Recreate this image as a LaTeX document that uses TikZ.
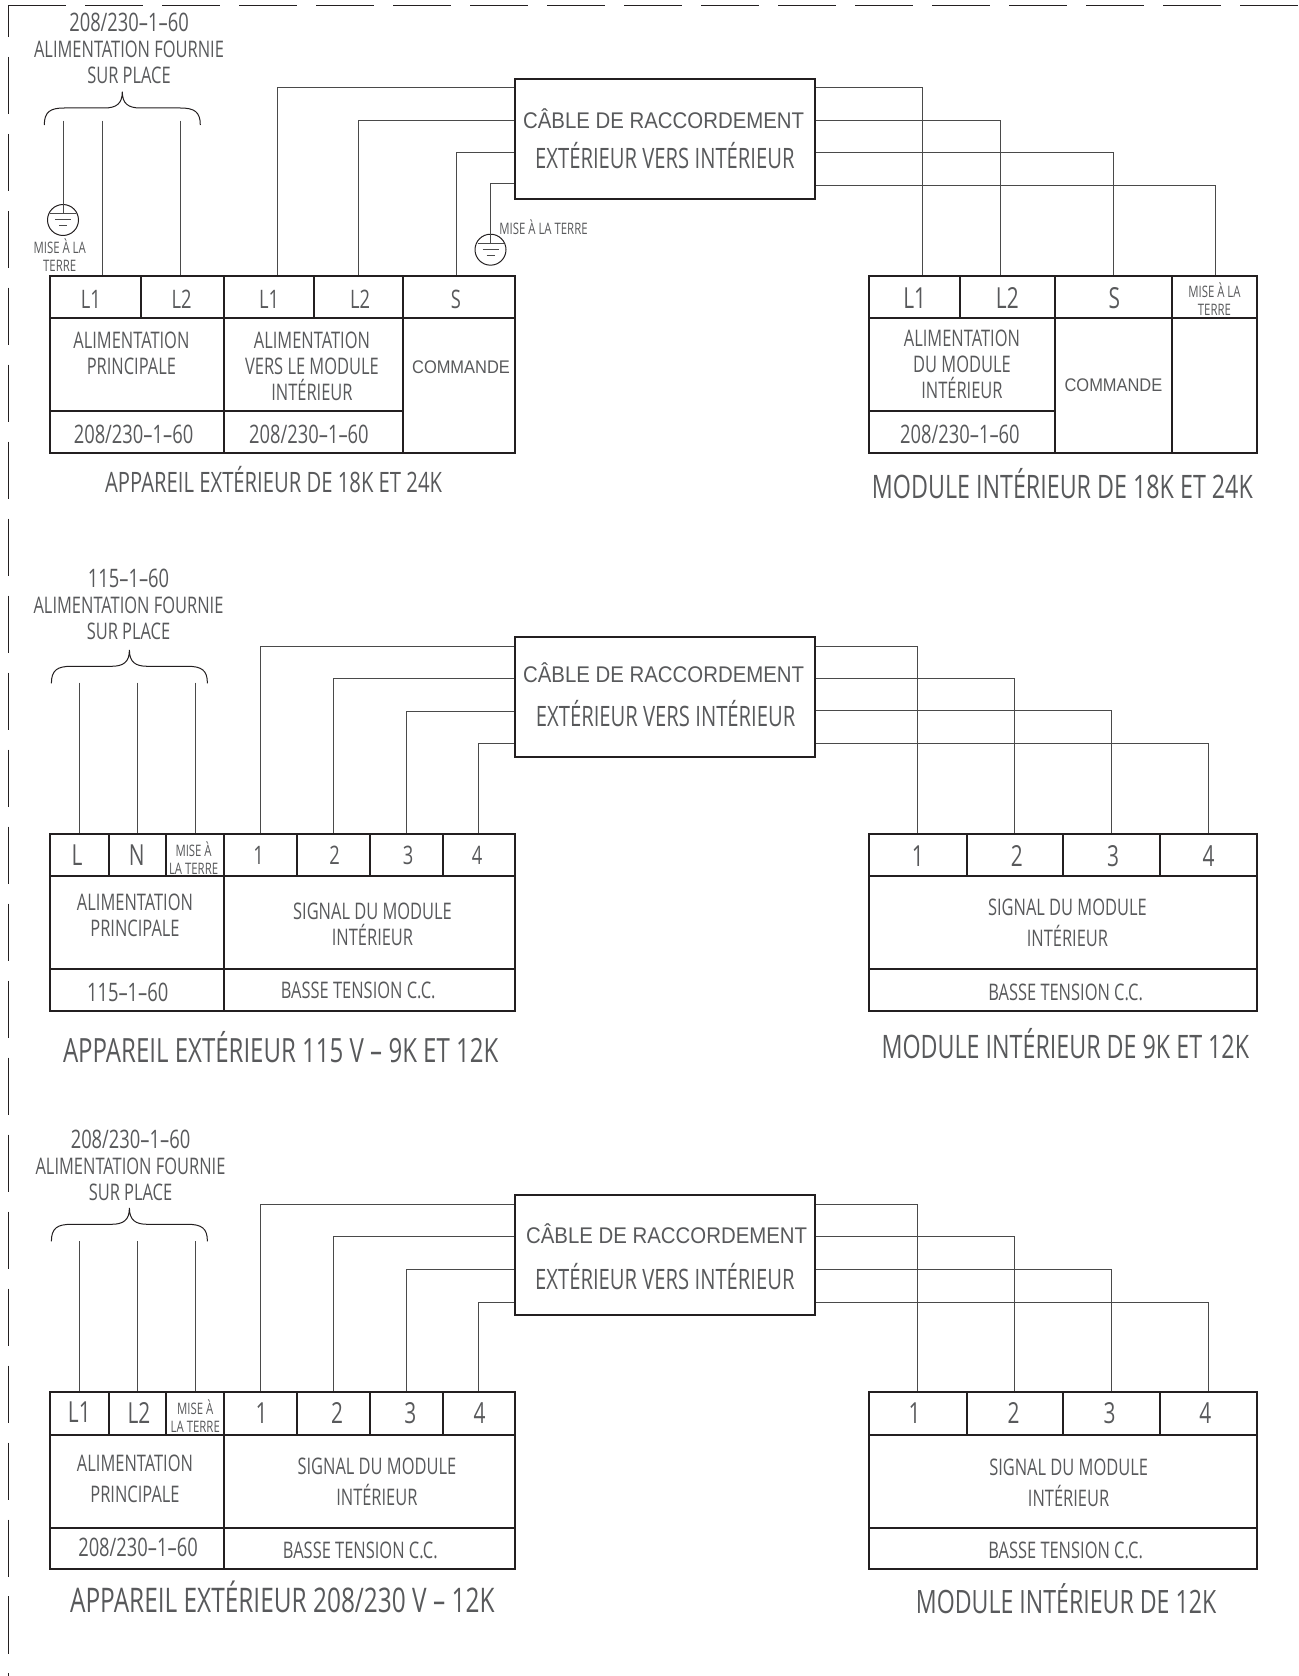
\documentclass[tikz,border=0pt]{standalone}
\usepackage{fontspec}
\usepackage{tikz}
\setmainfont[FakeStretch=0.72]{Open Sans}
\newfontfamily\arialfont[FakeStretch=0.9]{Liberation Sans}
\definecolor{textgray}{HTML}{58595B}
\definecolor{boxline}{HTML}{231F20}
\definecolor{wiregray}{HTML}{4A4A4A}
\newcommand{\voltsize}{\fontsize{14.5}{14.8}\selectfont}
\tikzset{
    cell/.style={draw=boxline, line width=0.04cm, inner sep=0pt},
    txt/.style={text=textgray, align=center, inner sep=0pt, font=\fontsize{13}{14.8}\selectfont},
    txtwide/.style={txt, font=\fontsize{13}{17.6}\selectfont},
    txtbig/.style={txt, font=\voltsize},
    txthuge/.style={txt, font=\fontsize{16.5}{18}\selectfont},
    txtsmall/.style={txt, font=\fontsize{9}{10.3}\selectfont},
    txtarial/.style={txt, font=\arialfont\fontsize{10.4}{12}\selectfont},
    cablefont/.style={txt, font=\arialfont\fontsize{12.9}{14}\selectfont},
    cablecond/.style={txt, font=\fontsize{16}{18}\selectfont},
    wire/.style={draw=wiregray, line width=0.02cm},
    dashline/.style={draw=boxline, line width=0.02cm, dash pattern=on 1.15cm off 0.39cm},
    fieldbrace/.pic={
        \draw[draw=boxline, line width=0.02cm] (-78,33.3) .. controls (-78,20) and (-72,16.3) .. (-58,16.3) -- (-18,16.3) .. controls (-6,16.3) and (0,12) .. (0,0) .. controls (0,12) and (6,16.3) .. (18,16.3) -- (58,16.3) .. controls (72,16.3) and (78,20) .. (78,33.3);
    },
    gnd/.style={circle, draw=boxline, line width=0.02cm, minimum size=0.62cm, inner sep=0pt, path picture={
        \draw[wire] ([xshift=-0.26cm,yshift=0.13cm]path picture bounding box.center) -- ([xshift=0.26cm,yshift=0.13cm]path picture bounding box.center);
        \draw[wire] ([xshift=-0.16cm]path picture bounding box.center) -- ([xshift=0.16cm]path picture bounding box.center);
        \draw[wire] ([xshift=-0.08cm,yshift=-0.12cm]path picture bounding box.center) -- ([xshift=0.08cm,yshift=-0.12cm]path picture bounding box.center);
    }}
}
\begin{document}
\begin{tikzpicture}[x=0.02cm, y=-0.02cm]
    \useasboundingbox (0,0) rectangle (1298,1676);

    % Dashed frame
    \coordinate (corner) at (8.3,5.3);
    \coordinate (frameright) at (1298,5.3);
    \coordinate (framebottom) at (8.3,1676);
    \draw[dashline] (corner) -- (frameright);
    \draw[dashline, dash phase=0.51cm] (corner) -- (framebottom);

    % Top supply
    \node[txt] (feed1) at (129,48) {{\voltsize 208/230--1--60}\\ALIMENTATION FOURNIE\\SUR PLACE};
    \pic (brace1) at (122.3,91.7) {fieldbrace};
    \coordinate (feed1a) at (63,120.7);
    \coordinate (feed1b) at (102.8,120.7);
    \coordinate (feed1c) at (180.8,120.7);
    \node[gnd] (gnd1) at (63,220) {};
    \node[txtsmall] (gnd1txt) at (59.7,255) {MISE À LA\\TERRE};

    % Top outdoor unit
    \node[cell, minimum width=1.82cm, minimum height=0.84cm, label={[txtbig,xshift=-0.094cm,yshift=-0.04cm]center:L1}] (ext1a) at (95.5,297) {};
    \node[cell, minimum width=1.666cm, minimum height=0.84cm, label={[txtbig,xshift=-0.02cm,yshift=-0.04cm]center:L2}] (ext1b) at (182.65,297) {};
    \node[cell, minimum width=1.792cm, minimum height=0.84cm, label={[txtbig,yshift=-0.04cm]center:L1}] (ext1c) at (269.1,297) {};
    \node[cell, minimum width=1.774cm, minimum height=0.84cm, label={[txtbig,xshift=0.035cm,yshift=-0.04cm]center:L2}] (ext1d) at (358.25,297) {};
    \node[cell, minimum width=2.248cm, minimum height=0.84cm, label={[txtbig,xshift=-0.056cm,yshift=-0.04cm]center:S}] (ext1e) at (458.8,297) {};
    \node[cell, minimum width=3.486cm, minimum height=1.86cm, label={[txt,xshift=-0.115cm,yshift=0.23cm]center:{ALIMENTATION\\PRINCIPALE}}] (ext1main) at (137.15,364.5) {};
    \node[cell, minimum width=3.566cm, minimum height=1.86cm, label={[txt,xshift=-0.03cm,yshift=-0.03cm]center:{ALIMENTATION\\VERS LE MODULE\\INTÉRIEUR}}] (ext1vers) at (313.45,364.5) {};
    \node[cell, minimum width=2.248cm, minimum height=2.7cm, label={[txtarial,xshift=0.044cm,yshift=0.37cm]center:COMMANDE}] (ext1cmd) at (458.8,385.5) {};
    \node[cell, minimum width=3.486cm, minimum height=0.84cm, label={[txtbig,xshift=-0.073cm,yshift=-0.04cm]center:208/230--1--60}] (ext1volta) at (137.15,432) {};
    \node[cell, minimum width=3.566cm, minimum height=0.84cm, label={[txtbig,xshift=-0.09cm,yshift=-0.04cm]center:208/230--1--60}] (ext1voltb) at (313.45,432) {};
    \node[txt, font=\fontsize{16}{18}\selectfont] (ext1title) at (273.6,480) {APPAREIL EXTÉRIEUR DE 18K ET 24K};

    % Top cable
    \node[cell, minimum width=6.016cm, minimum height=2.4cm, label={[cablefont,xshift=-0.025cm,yshift=0.4cm]center:CÂBLE DE RACCORDEMENT}, label={[cablecond,yshift=-0.336cm]center:EXTÉRIEUR VERS INTÉRIEUR}] (cable1) at (664.9,138.7) {};
    \node[gnd] (gnd2) at (490.5,249.7) {};
    \node[txtsmall] (gnd2txt) at (543.5,227) {MISE À LA TERRE};

    % Top indoor unit
    \node[cell, minimum width=1.814cm, minimum height=0.84cm, label={[txthuge,yshift=-0.02cm]center:L1}] (int1a) at (914.65,297) {};
    \node[cell, minimum width=1.892cm, minimum height=0.84cm, label={[txthuge,yshift=-0.02cm]center:L2}] (int1b) at (1007.3,297) {};
    \node[cell, minimum width=2.354cm, minimum height=0.84cm, label={[txthuge,xshift=0.02cm,yshift=-0.02cm]center:S}] (int1c) at (1113.45,297) {};
    \node[cell, minimum width=1.686cm, minimum height=0.84cm, label={[txtsmall,yshift=-0.04cm]center:{MISE À LA\\TERRE}}] (int1d) at (1214.45,297) {};
    \node[cell, minimum width=3.706cm, minimum height=1.86cm, label={[txt]center:{ALIMENTATION\\DU MODULE\\INTÉRIEUR}}] (int1feed) at (961.95,364.5) {};
    \node[cell, minimum width=2.354cm, minimum height=2.7cm, label={[txtarial]center:COMMANDE}] (int1cmd) at (1113.45,385.5) {};
    \node[cell, minimum width=1.686cm, minimum height=2.7cm] (int1blank) at (1214.45,385.5) {};
    \node[cell, minimum width=3.706cm, minimum height=0.84cm, label={[txtbig,xshift=-0.04cm,yshift=-0.04cm]center:208/230--1--60}] (int1volt) at (961.95,432) {};
    \node[txt, font=\fontsize{18.4}{20}\selectfont] (int1title) at (1062.4,484) {MODULE INTÉRIEUR DE 18K ET 24K};

    % Top wires
    \draw[wire] (feed1a) -- ([yshift=0.13cm]gnd1.center);
    \draw[wire] (feed1b) -- (feed1b |- ext1a.north);
    \draw[wire] (feed1c) -- (feed1c |- ext1b.north);
    \draw[wire] (cable1.west |- 0,88) -| (277.4,0 |- ext1c.north);
    \draw[wire] (cable1.west |- 0,120.7) -| (358.6,0 |- ext1d.north);
    \draw[wire] (cable1.west |- 0,153) -| (456,0 |- ext1e.north);
    \draw[wire] (cable1.west |- 0,184) -| ([yshift=0.13cm]gnd2.center);
    \draw[wire] (cable1.east |- 0,88) -| (922.3,0 |- int1a.north);
    \draw[wire] (cable1.east |- 0,120.7) -| (1000,0 |- int1b.north);
    \draw[wire] (cable1.east |- 0,153) -| (1113.3,0 |- int1c.north);
    \draw[wire] (cable1.east |- 0,185.3) -| (1215,0 |- int1d.north);

    % Middle supply
    \node[txt] (feed2) at (128.5,604) {{\voltsize 115--1--60}\\ALIMENTATION FOURNIE\\SUR PLACE};
    \pic (brace2) at (129.4,650) {fieldbrace};
    \coordinate (feed2a) at (79.6,682.7);
    \coordinate (feed2b) at (137.6,682.7);
    \coordinate (feed2c) at (195.7,682.7);

    % Middle outdoor unit
    \node[cell, minimum width=1.172cm, minimum height=0.84cm, label={[txthuge,xshift=-0.046cm]center:L}] (ext2a) at (79.3,855) {};
    \node[cell, minimum width=1.154cm, minimum height=0.84cm, label={[txthuge,xshift=-0.013cm]center:N}] (ext2b) at (137.45,855) {};
    \node[cell, minimum width=1.16cm, minimum height=0.84cm, label={[txtsmall,xshift=-0.034cm,yshift=-0.07cm]center:{MISE À\\LA TERRE}}] (ext2c) at (195.3,855) {};
    \node[cell, minimum width=1.46cm, minimum height=0.84cm, label={[txtbig,xshift=-0.042cm]center:1}] (ext2d) at (260.8,855) {};
    \node[cell, minimum width=1.45cm, minimum height=0.84cm, label={[txtbig,xshift=0.02cm]center:2}] (ext2e) at (333.55,855) {};
    \node[cell, minimum width=1.46cm, minimum height=0.84cm, label={[txtbig,xshift=0.034cm]center:3}] (ext2f) at (406.3,855) {};
    \node[cell, minimum width=1.444cm, minimum height=0.84cm, label={[txtbig,xshift=-0.038cm]center:4}] (ext2g) at (478.9,855) {};
    \node[cell, minimum width=3.486cm, minimum height=1.866cm, label={[txt,xshift=-0.043cm,yshift=0.143cm]center:{ALIMENTATION\\PRINCIPALE}}] (ext2main) at (137.15,922.65) {};
    \node[cell, minimum width=5.814cm, minimum height=1.866cm, label={[txt,xshift=0.057cm,yshift=-0.037cm]center:{SIGNAL DU MODULE\\INTÉRIEUR}}] (ext2sig) at (369.65,922.65) {};
    \node[cell, minimum width=3.486cm, minimum height=0.84cm, label={[txtbig,xshift=-0.189cm,yshift=-0.04cm]center:115--1--60}] (ext2volt) at (137.15,990.3) {};
    \node[cell, minimum width=5.814cm, minimum height=0.84cm, label={[txt,xshift=-0.229cm]center:BASSE TENSION C.C.}] (ext2dc) at (369.65,990.3) {};
    \node[txt, font=\fontsize{19}{21}\selectfont] (ext2title) at (280.7,1047.5) {APPAREIL EXTÉRIEUR 115 V -- 9K ET 12K};

    % Middle cable
    \node[cell, minimum width=6.016cm, minimum height=2.4cm, label={[cablefont,xshift=-0.025cm,yshift=0.49cm]center:CÂBLE DE RACCORDEMENT}, label={[cablecond,xshift=0.015cm,yshift=-0.34cm]center:EXTÉRIEUR VERS INTÉRIEUR}] (cable2) at (664.9,696.7) {};

    % Middle indoor unit
    \node[cell, minimum width=1.944cm, minimum height=0.84cm, label={[txthuge,yshift=-0.02cm]center:1}] (int2a) at (917.9,855) {};
    \node[cell, minimum width=1.934cm, minimum height=0.84cm, label={[txthuge,xshift=0.04cm,yshift=-0.02cm]center:2}] (int2b) at (1014.85,855) {};
    \node[cell, minimum width=1.936cm, minimum height=0.84cm, label={[txthuge,xshift=0.028cm,yshift=-0.02cm]center:3}] (int2c) at (1111.6,855) {};
    \node[cell, minimum width=1.932cm, minimum height=0.84cm, label={[txthuge,xshift=0.008cm,yshift=-0.02cm]center:4}] (int2d) at (1208.3,855) {};
    \node[cell, minimum width=7.746cm, minimum height=1.866cm, label={[txtwide,xshift=0.089cm]center:{SIGNAL DU MODULE\\INTÉRIEUR}}] (int2sig) at (1062.95,922.65) {};
    \node[cell, minimum width=7.746cm, minimum height=0.84cm, label={[txt,xshift=0.053cm,yshift=-0.04cm]center:BASSE TENSION C.C.}] (int2dc) at (1062.95,990.3) {};
    \node[txt, font=\fontsize{18.4}{20}\selectfont] (int2title) at (1065.3,1043.5) {MODULE INTÉRIEUR DE 9K ET 12K};

    % Middle wires
    \draw[wire] (feed2a) -- (feed2a |- ext2a.north);
    \draw[wire] (feed2b) -- (feed2b |- ext2b.north);
    \draw[wire] (feed2c) -- (feed2c |- ext2c.north);
    \draw[wire] (cable2.west |- 0,646) -| (ext2d.north);
    \draw[wire] (cable2.west |- 0,678.3) -| (ext2e.north);
    \draw[wire] (cable2.west |- 0,711) -| (ext2f.north);
    \draw[wire] (cable2.west |- 0,743.3) -| (ext2g.north);
    \draw[wire] (cable2.east |- 0,646) -| (int2a.north);
    \draw[wire] (cable2.east |- 0,678.7) -| (int2b.north);
    \draw[wire] (cable2.east |- 0,710.7) -| (int2c.north);
    \draw[wire] (cable2.east |- 0,743.7) -| (int2d.north);

    % Bottom supply
    \node[txt] (feed3) at (130.5,1165) {{\voltsize 208/230--1--60}\\ALIMENTATION FOURNIE\\SUR PLACE};
    \pic (brace3) at (129.4,1208) {fieldbrace};
    \coordinate (feed3a) at (79.6,1241);
    \coordinate (feed3b) at (137.6,1241);
    \coordinate (feed3c) at (195.7,1241);

    % Bottom outdoor unit
    \node[cell, minimum width=1.172cm, minimum height=0.85cm, label={[txthuge,yshift=0.015cm]center:L1}] (ext3a) at (79.3,1413.25) {};
    \node[cell, minimum width=1.154cm, minimum height=0.85cm, label={[txthuge,xshift=0.03cm,yshift=0.015cm]center:L2}] (ext3b) at (137.45,1413.25) {};
    \node[cell, minimum width=1.16cm, minimum height=0.85cm, label={[txtsmall,yshift=-0.055cm]center:{MISE À\\LA TERRE}}] (ext3c) at (195.3,1413.25) {};
    \node[cell, minimum width=1.46cm, minimum height=0.85cm, label={[txthuge,xshift=0.016cm]center:1}] (ext3d) at (260.8,1413.25) {};
    \node[cell, minimum width=1.45cm, minimum height=0.85cm, label={[txthuge,xshift=0.069cm]center:2}] (ext3e) at (333.55,1413.25) {};
    \node[cell, minimum width=1.46cm, minimum height=0.85cm, label={[txthuge,xshift=0.082cm]center:3}] (ext3f) at (406.3,1413.25) {};
    \node[cell, minimum width=1.444cm, minimum height=0.85cm, label={[txthuge,xshift=0.016cm]center:4}] (ext3g) at (478.9,1413.25) {};
    \node[cell, minimum width=3.486cm, minimum height=1.86cm, label={[txtwide,xshift=-0.043cm,yshift=0.036cm]center:{ALIMENTATION\\PRINCIPALE}}] (ext3main) at (137.15,1481) {};
    \node[cell, minimum width=5.814cm, minimum height=1.86cm, label={[txtwide,xshift=0.145cm,yshift=-0.02cm]center:{SIGNAL DU MODULE\\INTÉRIEUR}}] (ext3sig) at (369.65,1481) {};
    \node[cell, minimum width=3.486cm, minimum height=0.836cm, label={[txtbig,xshift=0.017cm,yshift=0.03cm]center:208/230--1--60}] (ext3volt) at (137.15,1548.4) {};
    \node[cell, minimum width=5.814cm, minimum height=0.836cm, label={[txt,xshift=-0.187cm,yshift=-0.04cm]center:BASSE TENSION C.C.}] (ext3dc) at (369.65,1548.4) {};
    \node[txt, font=\fontsize{19.3}{21}\selectfont] (ext3title) at (282.3,1597) {APPAREIL EXTÉRIEUR 208/230 V -- 12K};

    % Bottom cable
    \node[cell, minimum width=6.016cm, minimum height=2.4cm, label={[cablefont,xshift=0.035cm,yshift=0.42cm]center:CÂBLE DE RACCORDEMENT}, label={[cablecond,yshift=-0.436cm]center:EXTÉRIEUR VERS INTÉRIEUR}] (cable3) at (664.9,1254.7) {};

    % Bottom indoor unit
    \node[cell, minimum width=1.944cm, minimum height=0.85cm, label={[txthuge,xshift=-0.068cm]center:1}] (int3a) at (917.9,1413.25) {};
    \node[cell, minimum width=1.934cm, minimum height=0.85cm, label={[txthuge,xshift=-0.025cm]center:2}] (int3b) at (1014.85,1413.25) {};
    \node[cell, minimum width=1.936cm, minimum height=0.85cm, label={[txthuge,xshift=-0.042cm]center:3}] (int3c) at (1111.6,1413.25) {};
    \node[cell, minimum width=1.932cm, minimum height=0.85cm, label={[txthuge,xshift=-0.058cm]center:4}] (int3d) at (1208.3,1413.25) {};
    \node[cell, minimum width=7.746cm, minimum height=1.86cm, label={[txtwide,xshift=0.113cm,yshift=-0.036cm]center:{SIGNAL DU MODULE\\INTÉRIEUR}}] (int3sig) at (1062.95,1481) {};
    \node[cell, minimum width=7.746cm, minimum height=0.836cm, label={[txt,xshift=0.053cm,yshift=-0.03cm]center:BASSE TENSION C.C.}] (int3dc) at (1062.95,1548.4) {};
    \node[txt, font=\fontsize{18.3}{20}\selectfont] (int3title) at (1066.1,1598.2) {MODULE INTÉRIEUR DE 12K};

    % Bottom wires
    \draw[wire] (feed3a) -- (feed3a |- ext3a.north);
    \draw[wire] (feed3b) -- (feed3b |- ext3b.north);
    \draw[wire] (feed3c) -- (feed3c |- ext3c.north);
    \draw[wire] (cable3.west |- 0,1204.3) -| (ext3d.north);
    \draw[wire] (cable3.west |- 0,1236.7) -| (ext3e.north);
    \draw[wire] (cable3.west |- 0,1269) -| (ext3f.north);
    \draw[wire] (cable3.west |- 0,1302) -| (ext3g.north);
    \draw[wire] (cable3.east |- 0,1204.3) -| (int3a.north);
    \draw[wire] (cable3.east |- 0,1236.7) -| (int3b.north);
    \draw[wire] (cable3.east |- 0,1269) -| (int3c.north);
    \draw[wire] (cable3.east |- 0,1302) -| (int3d.north);

\end{tikzpicture}
\end{document}
